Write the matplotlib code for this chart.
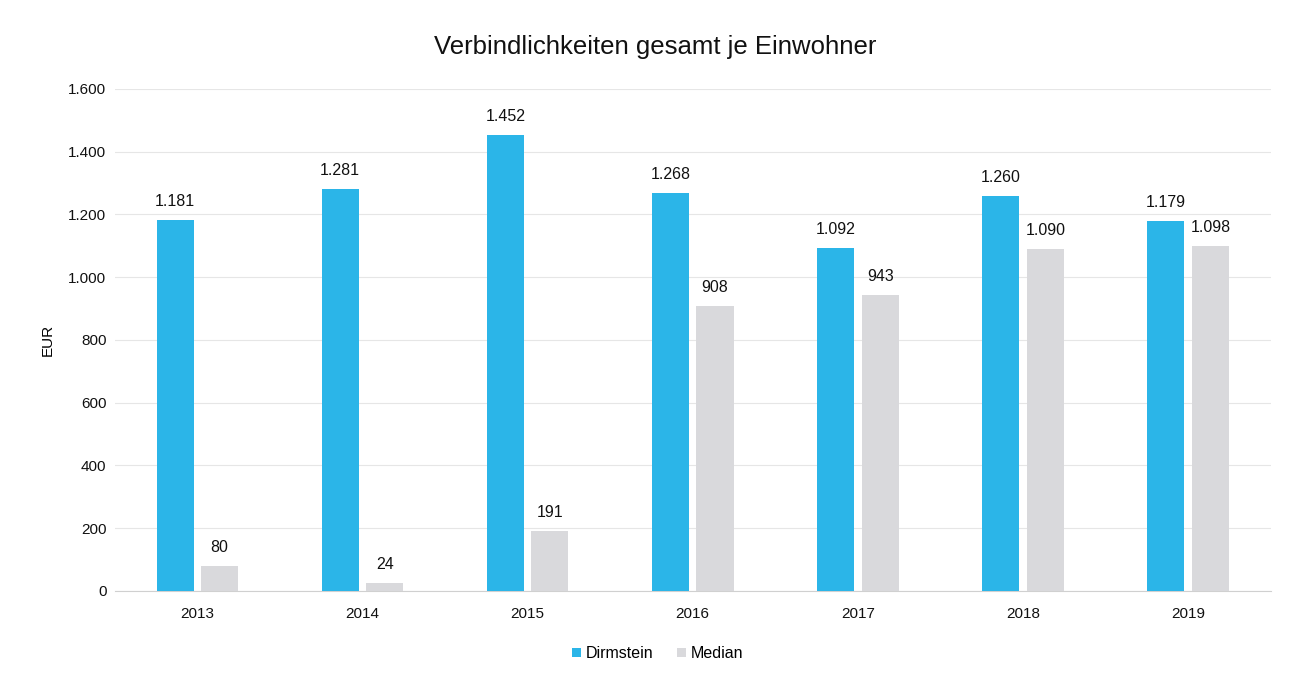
import matplotlib
matplotlib.use("Agg")
import matplotlib.pyplot as plt
import numpy as np
from matplotlib.ticker import FuncFormatter

years = ["2013", "2014", "2015", "2016", "2017", "2018", "2019"]
dirmstein = [1181, 1281, 1452, 1268, 1092, 1260, 1179]
median = [80, 24, 191, 908, 943, 1090, 1098]
yticks = [0, 200, 400, 600, 800, 1000, 1200, 1400, 1600]

def de(v):
    return f"{int(v):,}".replace(",", ".")

plt.rcParams['font.family'] = ['Liberation Sans', 'DejaVu Sans']

fig = plt.figure(figsize=(12.9, 6.79), dpi=100)
ax = fig.add_axes([0.089, 0.13, 0.896, 0.739])

x = np.arange(len(years))
w = 0.225
off = 0.135
c1 = "#2bb5e8"
c2 = "#d9d9dc"
b1 = ax.bar(x - off, dirmstein, w, color=c1, label="Dirmstein", zorder=3)
b2 = ax.bar(x + off, median, w, color=c2, label="Median", zorder=3)

for rect, v in zip(b1, dirmstein):
    ax.text(rect.get_x() + rect.get_width() / 2, v + 35, de(v), ha="center", va="bottom", fontsize=11.5, color="#111111")
for rect, v in zip(b2, median):
    ax.text(rect.get_x() + rect.get_width() / 2, v + 35, de(v), ha="center", va="bottom", fontsize=11.5, color="#111111")

ax.set_xlim(-0.5, len(years) - 0.5)
ax.set_ylim(0, 1600)
ax.set_yticks(yticks)
ax.yaxis.set_major_formatter(FuncFormatter(lambda v, p: de(v)))
ax.set_xticks(x)
ax.set_xticklabels(years)
ax.tick_params(axis="both", length=0, labelsize=11, colors="#111111")
ax.tick_params(axis="x", pad=12)
ax.tick_params(axis="y", pad=6)
ax.grid(axis="y", color="#e6e6e6", linewidth=0.8, zorder=0)
for s in ["top", "right", "left"]:
    ax.spines[s].set_visible(False)
ax.spines["bottom"].set_color("#d0d0d0")
ax.set_ylabel("EUR", fontsize=11, labelpad=10)

fig.suptitle("Verbindlichkeiten gesamt je Einwohner", x=0.508, y=0.948, fontsize=18.5, color="#111111")

leg = fig.legend(loc="lower center", bbox_to_anchor=(0.51, 0.005), ncol=2, frameon=False,
                 fontsize=11.5, handlelength=0.55, handleheight=0.55, handletextpad=0.3, columnspacing=1.5)

fig.savefig("out.png", dpi=100, facecolor="white")
